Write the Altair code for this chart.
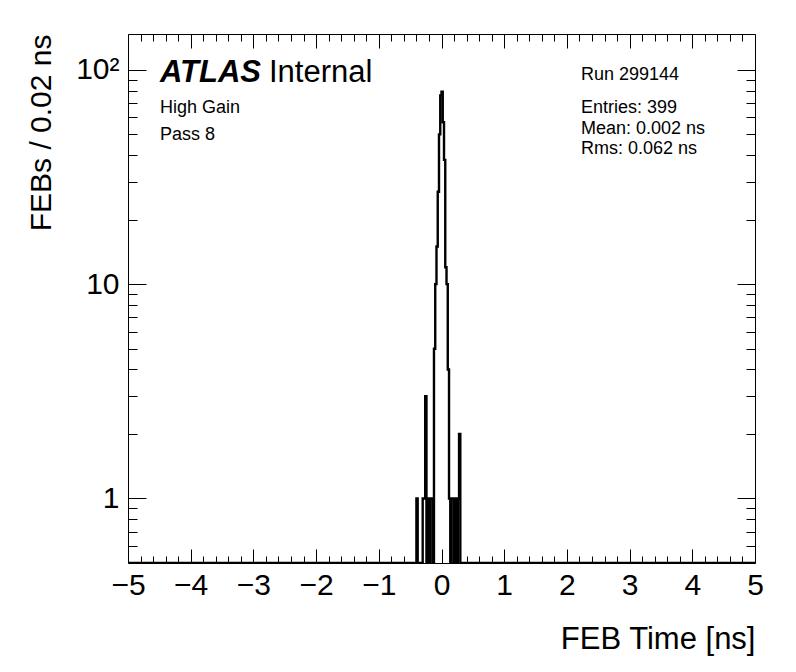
import altair as alt
import numpy as np
import pandas as pd

# ---- histogram content (non-empty bins, left edges in ns, bin width 0.02 ns)
bin_left_edges = [-0.40,
                  -0.30, -0.28, -0.26, -0.22, -0.18, -0.16,
                  -0.12, -0.10, -0.08, -0.06, -0.04, -0.02, 0.00, 0.02, 0.04, 0.06, 0.08, 0.10,
                  0.12, 0.16, 0.18, 0.22, 0.26, 0.28]
bin_counts = [1,
              1, 1, 3, 1, 1, 1,
              5, 10, 15, 27, 50, 76, 79, 57, 38, 12, 10, 4,
              1, 1, 1, 1, 1, 2]

x_range = [-5, 5]
bin_width = 0.02
y_range = [0.5, 147]

x_major = [-5, -4, -3, -2, -1, 0, 1, 2, 3, 4, 5]
x_minor = [round(v, 1) for v in np.arange(-5, 5.001, 0.2) if abs(v - round(v)) > 1e-6]
y_major = [1, 10, 100]
y_minor = [0.6, 0.7, 0.8, 0.9, 2, 3, 4, 5, 6, 7, 8, 9, 20, 30, 40, 50, 60, 70, 80, 90]

texts_left = ["High Gain", "Pass 8"]
texts_right = ["Run 299144", "Entries: 399", "Mean: 0.002 ns", "Rms: 0.062 ns"]

# ---- build the full step outline (empty bins sit on the frame bottom, as in ROOT log plots)
nb = int(round((x_range[1] - x_range[0]) / bin_width))
edges = np.round(x_range[0] + bin_width * np.arange(nb + 1), 2)
counts = np.zeros(nb)
for e, c in zip(bin_left_edges, bin_counts):
    counts[int(round((e - x_range[0]) / bin_width))] = c
yy = np.where(counts > 0, counts, y_range[0])
df = pd.DataFrame({"x": edges, "y": np.append(yy, yy[-1])})

FONT = "Liberation Sans"
xs = alt.Scale(domain=x_range, nice=False, zero=False)
ys = alt.Scale(type="log", domain=y_range, nice=False)


def tick_axis(orient, values, size):
    return alt.Axis(orient=orient, values=values, labels=False, domain=False, grid=False,
                    ticks=True, tickSize=size, offset=-size, tickColor="black",
                    tickWidth=1, title="")


label_x = alt.Axis(orient="bottom", values=x_major, ticks=False, tickSize=0, domain=False,
                   grid=False, labelFont=FONT, labelFontSize=30, labelColor="black",
                   labelPadding=7, labelFlush=False,
                   title="FEB Time [ns]", titleFont=FONT, titleFontSize=31,
                   titleFontWeight="normal", titleColor="black", titleAlign="right",
                   titleAnchor="end", titleBaseline="alphabetic", titleX=627, titleY=85)
label_y = alt.Axis(orient="left", values=y_major, ticks=False, tickSize=0, domain=False,
                   grid=False, labelFont=FONT, labelFontSize=30, labelColor="black",
                   labelPadding=9, labelFlush=False,
                   labelExpr="datum.value >= 100 ? '10\u00b2' : format(datum.value, 'd')",
                   title="FEBs / 0.02 ns", titleFont=FONT, titleFontSize=30,
                   titleFontWeight="normal", titleColor="black", titleAngle=270,
                   titleAlign="right", titleAnchor="end", titleBaseline="alphabetic",
                   titleX=-78, titleY=0)

hist = alt.Chart(df).mark_line(interpolate="step-after", color="black", strokeWidth=2.4,
                               clip=True).encode(
    x=alt.X("x:Q", scale=xs, axis=label_x),
    y=alt.Y("y:Q", scale=ys, axis=label_y),
)


def ghost(ax_x, ax_y):
    return alt.Chart(df).mark_line(strokeOpacity=0).encode(
        x=alt.X("x:Q", scale=xs, axis=ax_x),
        y=alt.Y("y:Q", scale=ys, axis=ax_y),
    )


l1 = ghost(tick_axis("bottom", x_major, 14), tick_axis("left", y_major, 18))
l2 = ghost(tick_axis("bottom", x_minor, 7), tick_axis("left", y_minor, 9))
l3 = ghost(tick_axis("top", x_major, 14), tick_axis("right", y_major, 18))
l4 = ghost(tick_axis("top", x_minor, 7), tick_axis("right", y_minor, 9))


def txt(s, x, y, size, weight="normal", style="normal"):
    return alt.Chart(pd.DataFrame({"t": [s]})).mark_text(
        align="left", baseline="alphabetic", font=FONT, fontSize=size,
        fontWeight=weight, fontStyle=style, color="black"
    ).encode(x=alt.value(x), y=alt.value(y), text="t:N")


annotations = [
    txt("ATLAS", 32, 48, 31, weight="bold", style="italic"),
    txt("Internal", 141, 48, 31),
    txt(texts_left[0], 32, 79, 18),
    txt(texts_left[1], 32, 106, 18),
    txt(texts_right[0], 453, 46, 18),
    txt(texts_right[1], 453, 79, 18),
    txt(texts_right[2], 453, 100, 18),
    txt(texts_right[3], 453, 120, 18),
]

chart = alt.layer(hist, l1, l2, l3, l4, *annotations).resolve_axis(
    x="independent", y="independent"
).properties(
    width=627, height=529,
    autosize=alt.AutoSizeParams(type="none"),
    padding={"left": 120, "top": 26, "right": 33, "bottom": 101},
    background="white",
).configure_view(stroke="black", strokeWidth=1)

chart.save("out.html", embed_options={"renderer": "svg", "actions": False})
